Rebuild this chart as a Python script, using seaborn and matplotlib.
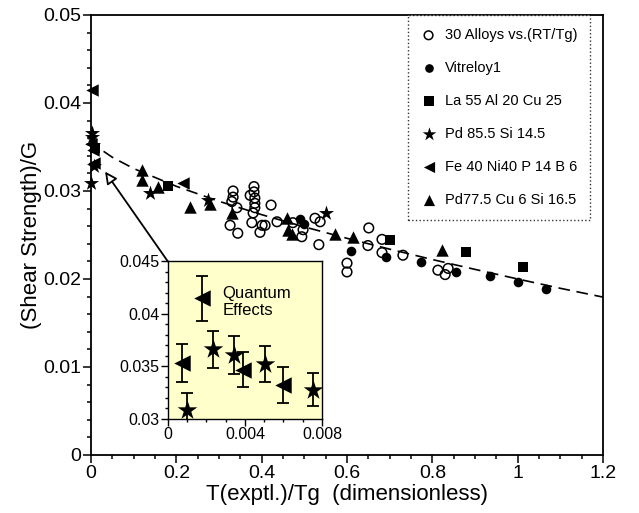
import matplotlib
matplotlib.use("Agg")
import matplotlib.pyplot as plt
from matplotlib.ticker import MultipleLocator
import seaborn as sns

sns.set_theme(style="white")
plt.rcParams['font.family'] = ['Liberation Sans', 'DejaVu Sans']

# ---------------- data ----------------
# 30 alloys vs (RT/Tg)  (open circles)
alloys_x = [0.333, 0.333, 0.330, 0.342, 0.326, 0.344, 0.382, 0.382, 0.373, 0.384,
            0.384, 0.384, 0.380, 0.377, 0.408, 0.401, 0.396, 0.422, 0.436, 0.494,
            0.497, 0.525, 0.537, 0.534, 0.473, 0.651, 0.649, 0.682, 0.682, 0.731,
            0.600, 0.600, 0.813, 0.830, 0.837]
alloys_y = [0.0300, 0.0293, 0.0288, 0.0281, 0.0261, 0.0252, 0.0305, 0.0299, 0.0295, 0.0292,
            0.0286, 0.0281, 0.0275, 0.0264, 0.0261, 0.0261, 0.0253, 0.0284, 0.0265, 0.0248,
            0.0256, 0.0269, 0.0265, 0.0239, 0.0264, 0.0258, 0.0238, 0.0245, 0.0230, 0.0227,
            0.0218, 0.0208, 0.0210, 0.0205, 0.0212]

# Vitreloy1 (filled circles)
vit_x = [0.490, 0.499, 0.609, 0.691, 0.773, 0.855, 0.935, 1.001, 1.066]
vit_y = [0.0268, 0.0263, 0.0232, 0.0225, 0.0219, 0.0208, 0.0203, 0.0196, 0.0189]

# La55 Al20 Cu25 (squares)
la_x = [0.010, 0.181, 0.701, 0.880, 1.013]
la_y = [0.0349, 0.0306, 0.0244, 0.0231, 0.0214]

# Pd85.5 Si14.5 (stars) -- low-temperature values shared with inset
pd85_x = [0.00097, 0.00235, 0.00345, 0.00504, 0.00755, 0.138, 0.275, 0.551]
pd85_y = [0.0309, 0.0366, 0.0361, 0.0352, 0.0328, 0.0298, 0.0290, 0.0275]

# Fe40 Ni40 P14 B6 (left triangles)
fe_x = [0.00071, 0.00175, 0.0039, 0.00599, 0.216]
fe_y = [0.0353, 0.04145, 0.0347, 0.0332, 0.0309]

# Pd77.5 Cu6 Si16.5 (up triangles)
pd77_x = [0.119, 0.119, 0.158, 0.232, 0.279, 0.330, 0.459, 0.462, 0.470, 0.572, 0.615, 0.822]
pd77_y = [0.0324, 0.0312, 0.0305, 0.0282, 0.0285, 0.0275, 0.0269, 0.0256, 0.0251, 0.0251, 0.0248, 0.0233]

# dashed fit curve
fit_x = [0.0, 0.02, 0.05, 0.1, 0.2, 0.3, 0.4, 0.5, 0.6, 0.7, 0.8, 0.9, 1.0, 1.1, 1.2]
fit_y = [0.0360, 0.03482, 0.03383, 0.03255, 0.03053, 0.02883, 0.02731, 0.02592,
         0.02462, 0.02339, 0.02221, 0.02109, 0.0200, 0.01894, 0.01794]

# inset (quantum effects) values with error bars
in_fe_x = [0.00071, 0.00175, 0.0039, 0.00599]
in_fe_y = [0.0353, 0.04145, 0.0347, 0.0332]
in_fe_err = [0.0018, 0.0021, 0.0017, 0.0017]
in_pd_x = [0.00097, 0.00235, 0.00345, 0.00504, 0.00755]
in_pd_y = [0.0309, 0.0366, 0.0361, 0.0352, 0.0328]
in_pd_err = [0.0016, 0.0018, 0.0018, 0.0017, 0.0016]

labels = ["30 Alloys vs.(RT/Tg)", "Vitreloy1", "La 55 Al 20 Cu 25",
          "Pd 85.5 Si 14.5", "Fe 40 Ni40 P 14 B 6", "Pd77.5 Cu 6 Si 16.5"]

# ---------------- figure ----------------
fig = plt.figure(figsize=(6.39, 5.13), dpi=100)
fig.patch.set_facecolor('white')
ax = fig.add_axes([0.1424, 0.1131, 0.8013, 0.8577])
ax.set_facecolor('white')

sns.lineplot(x=fit_x, y=fit_y, ax=ax, color='black', lw=1.2, dashes=False,
             linestyle=(0, (7, 4)), zorder=2)

kw = dict(ax=ax, clip_on=False, zorder=3)
sns.scatterplot(x=alloys_x, y=alloys_y, marker='o', s=48, facecolors='none',
                edgecolor='black', linewidth=1.1, label=labels[0], **kw)
sns.scatterplot(x=vit_x, y=vit_y, marker='o', s=48, color='black', linewidth=0,
                label=labels[1], **kw)
sns.scatterplot(x=la_x, y=la_y, marker='s', s=62, color='black', linewidth=0,
                label=labels[2], **kw)
sns.scatterplot(x=pd85_x, y=pd85_y, marker='*', s=130, color='black', linewidth=0,
                label=labels[3], **kw)
sns.scatterplot(x=fe_x, y=fe_y, marker='<', s=80, color='black', linewidth=0,
                label=labels[4], **kw)
sns.scatterplot(x=pd77_x, y=pd77_y, marker='^', s=80, color='black', linewidth=0,
                label=labels[5], **kw)

ax.set_xlim(0, 1.2)
ax.set_ylim(0, 0.05)
ax.xaxis.set_minor_locator(MultipleLocator(0.05))
ax.yaxis.set_minor_locator(MultipleLocator(0.002))
ax.set_xticks([0, 0.2, 0.4, 0.6, 0.8, 1.0, 1.2])
ax.set_xticklabels(['0', '0.2', '0.4', '0.6', '0.8', '1', '1.2'])
ax.set_yticks([0, 0.01, 0.02, 0.03, 0.04, 0.05])
ax.set_yticklabels(['0', '0.01', '0.02', '0.03', '0.04', '0.05'])
ax.tick_params(which='both', direction='out', color='black', width=1.1,
               labelsize=14, labelcolor='black', left=True, bottom=True,
               top=False, right=False, pad=1)
ax.tick_params(which='major', length=6)
ax.tick_params(which='minor', length=3)
for sp in ax.spines.values():
    sp.set_color('black')
    sp.set_linewidth(1.3)
ax.set_xlabel("T(exptl.)/Tg  (dimensionless)", fontsize=16, color='black', labelpad=2)
ax.set_ylabel("(Shear Strength)/G", fontsize=16, color='black', labelpad=1)

h, l = ax.get_legend_handles_labels()
leg = ax.legend(h, l, loc='upper right', bbox_to_anchor=(0.975, 1.0),
                borderaxespad=0, frameon=True, fancybox=False,
                prop={'size': 10.5},
                labelspacing=1.3, handletextpad=0.6, handlelength=1.0,
                borderpad=0.9, markerscale=0.9)
fr = leg.get_frame()
fr.set_edgecolor('black')
fr.set_linestyle(':')
fr.set_linewidth(1.0)
for t in leg.get_texts():
    t.set_color('black')

# arrow from inset to low-T data
ax.annotate('', xy=(0.033, 0.0322), xytext=(0.18, 0.022),
            arrowprops=dict(arrowstyle='-|>', fc='white', ec='black', lw=1.3,
                            mutation_scale=18, shrinkA=0, shrinkB=0), zorder=1)

# ---------------- inset ----------------
axi = fig.add_axes([0.2629, 0.1832, 0.2410, 0.3080])
axi.set_facecolor('#ffffcc')
axi.errorbar(in_fe_x, in_fe_y, yerr=in_fe_err, fmt='none', ecolor='black',
             elinewidth=1.3, capsize=4, capthick=1.3)
axi.errorbar(in_pd_x, in_pd_y, yerr=in_pd_err, fmt='none', ecolor='black',
             elinewidth=1.3, capsize=4, capthick=1.3)
sns.scatterplot(x=in_fe_x, y=in_fe_y, marker='<', s=140, color='black',
                linewidth=0, ax=axi, zorder=3, legend=False)
sns.scatterplot(x=in_pd_x, y=in_pd_y, marker='*', s=220, color='black',
                linewidth=0, ax=axi, zorder=3, legend=False)
axi.set_xlim(0, 0.008)
axi.set_ylim(0.03, 0.045)
axi.set_xticks([0, 0.004, 0.008])
axi.set_xticklabels(['0', '0.004', '0.008'])
axi.set_yticks([0.03, 0.035, 0.04, 0.045])
axi.set_yticklabels(['0.03', '0.035', '0.04', '0.045'])
axi.xaxis.set_minor_locator(MultipleLocator(0.001))
axi.yaxis.set_minor_locator(MultipleLocator(0.001))
axi.tick_params(which='both', direction='out', color='black', width=1.0,
                labelsize=11.5, labelcolor='black', left=True, bottom=True, pad=1)
axi.tick_params(which='major', length=5)
axi.tick_params(which='minor', length=2.5)
for sp in axi.spines.values():
    sp.set_color('black')
    sp.set_linewidth(1.0)
axi.text(0.00284, 0.0411, "Quantum\nEffects", fontsize=12, color='black',
         va='center', ha='left', linespacing=1.2)

fig.savefig("out.png", dpi=100, facecolor='white')
